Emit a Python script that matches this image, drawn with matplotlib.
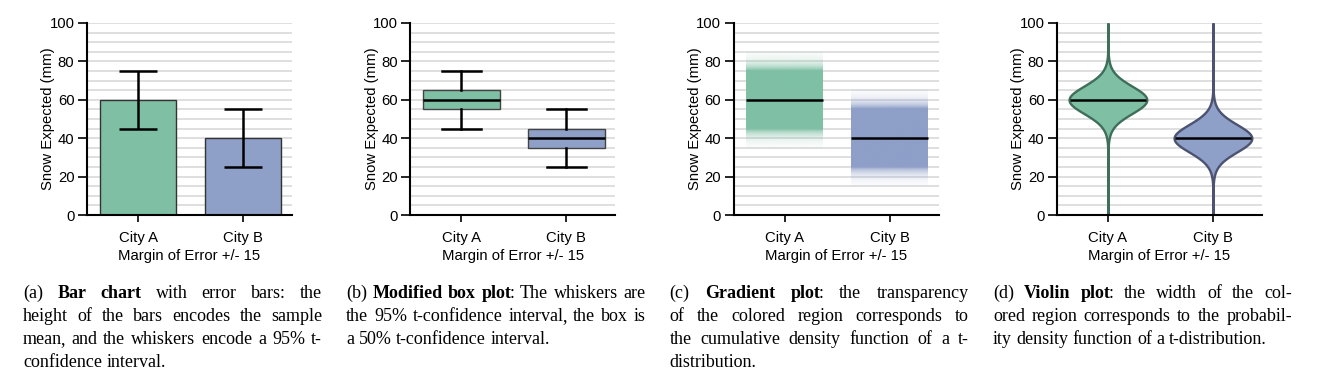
import numpy as np
import matplotlib
matplotlib.use('Agg')
import matplotlib.pyplot as plt
from matplotlib.ticker import MultipleLocator

# data
cities = ['City A', 'City B']
means = [60, 40]
ci95 = [15, 15]   # half width of the 95% t-interval
ci50 = [5, 5]     # half width of the 50% t-interval
dof = 30
yticks = [0, 20, 40, 60, 80, 100]
ylabel = 'Snow Expected (mm)'
xlabel = 'Margin of Error +/- 15'

fills = ['#7fc0a5', '#8e9fc8']
edges = ['#3f6e5b', '#4b5371']

captions = [
    ["(a) **Bar chart** with error bars: the",
     "height of the bars encodes the sample",
     "mean, and the whiskers encode a 95% t-",
     "confidence interval."],
    ["(b) **Modified box plot**: The whiskers are",
     "the 95% t-confidence interval, the box is",
     "a 50% t-confidence interval."],
    ["(c) **Gradient plot**: the transparency",
     "of the colored region corresponds to",
     "the cumulative density function of a t-",
     "distribution."],
    ["(d) **Violin plot**: the width of the col-",
     "ored region corresponds to the probabil-",
     "ity density function of a t-distribution."],
]

plt.rcParams['font.family'] = ['Liberation Sans', 'DejaVu Sans']
plt.rcParams['font.size'] = 10.7

W, H = 1332, 390
fig = plt.figure(figsize=(W / 100, H / 100), dpi=100)

x = np.arange(len(cities))
t_crit = 2.042  # t(0.975, 30)


def t_shape(y, m, half):
    se = half / t_crit
    z = (y - m) / se
    return (1 + z ** 2 / dof) ** (-(dof + 1) / 2)


def style_axes(ax):
    ax.set_xlim(-0.486, 1.466)
    ax.set_ylim(0, 100)
    ax.set_yticks(yticks)
    ax.yaxis.set_minor_locator(MultipleLocator(5))
    ax.grid(which='both', axis='y', color='#d9d9d9', lw=1.2, zorder=0)
    ax.set_axisbelow(True)
    ax.set_xticks(x)
    ax.set_xticklabels(cities)
    for s in ['top', 'right']:
        ax.spines[s].set_visible(False)
    for s in ['left', 'bottom']:
        ax.spines[s].set_linewidth(1.5)
    ax.tick_params(axis='y', which='major', length=6.5, width=1.2, pad=2.5)
    ax.tick_params(axis='y', which='minor', length=0)
    ax.tick_params(axis='x', length=5, width=1.2, pad=6.5)
    ax.set_ylabel(ylabel)
    ax.yaxis.set_label_coords(-0.155, 0.5)
    ax.set_xlabel(xlabel, labelpad=3)


axes = []
for k in range(4):
    left = 87 + 323.3 * k
    ax = fig.add_axes([left / W, 1 - 215 / H, 205 / W, 192 / H])
    axes.append(ax)

# (a) bar chart
ax = axes[0]
ax.bar(x, means, width=0.73, color=fills, edgecolor='#333333', linewidth=1, zorder=2)
ax.errorbar(x, means, yerr=ci95, fmt='none', ecolor='black', elinewidth=1.8,
            capsize=13.5, capthick=1.8, zorder=3)
style_axes(ax)

# (b) modified box plot
ax = axes[1]
stats = []
for i in range(len(cities)):
    stats.append(dict(med=means[i], q1=means[i] - ci50[i], q3=means[i] + ci50[i],
                      whislo=means[i] - ci95[i], whishi=means[i] + ci95[i], fliers=[]))
bp = ax.bxp(stats, positions=x, widths=0.73, capwidths=0.37, patch_artist=True,
            showfliers=False,
            boxprops=dict(edgecolor='#444444', linewidth=1),
            medianprops=dict(color='black', linewidth=1.8),
            whiskerprops=dict(color='black', linewidth=1.8),
            capprops=dict(color='black', linewidth=1.8))
for patch, c in zip(bp['boxes'], fills):
    patch.set_facecolor(c)
    patch.set_zorder(2)
style_axes(ax)

# (c) gradient plot
ax = axes[2]
for i in range(len(cities)):
    m = means[i]
    ys = np.linspace(m - 25, m + 25, 400)
    fine = np.linspace(m - 60, m + 60, 4001)
    pdf = t_shape(fine, m, ci95[i])
    cdf = np.cumsum(pdf)
    cdf = cdf / cdf[-1]
    cdf_y = np.interp(ys, fine, cdf)
    tail = 2 * np.minimum(cdf_y, 1 - cdf_y)
    alpha = np.clip(tail / 0.05, 0, 1)
    rgb = matplotlib.colors.to_rgb(fills[i])
    img = np.zeros((len(ys), 1, 4))
    img[:, 0, :3] = rgb
    img[:, 0, 3] = alpha
    ax.imshow(img, extent=[x[i] - 0.365, x[i] + 0.365, m - 25, m + 25],
              origin='lower', aspect='auto', interpolation='bilinear', zorder=2)
    ax.hlines(m, x[i] - 0.365, x[i] + 0.365, color='black', lw=1.8, zorder=3)
style_axes(ax)

# (d) violin plot
ax = axes[3]
coords = np.linspace(0, 100, 801)
vpstats = []
for i in range(len(cities)):
    vals = t_shape(coords, means[i], ci95[i])
    vpstats.append(dict(coords=coords, vals=vals, mean=means[i], median=means[i],
                        min=0, max=100))
vp = ax.violin(vpstats, positions=x, widths=0.74, showmeans=False,
               showextrema=False, showmedians=False)
for body, fc, ec in zip(vp['bodies'], fills, edges):
    body.set_facecolor(fc)
    body.set_edgecolor(ec)
    body.set_linewidth(1.7)
    body.set_alpha(1)
    body.set_zorder(2)
ax.hlines(means, x - 0.36, x + 0.36, color='black', lw=1.8, zorder=3)
style_axes(ax)

# captions, justified like the paper
fig.canvas.draw()
renderer = fig.canvas.get_renderer()
cap_size = 13
space = 0.25 * cap_size * 100 / 72


def parse(line):
    # split into words; a word is a list of (text, bold) pieces,
    # trailing commas get their own piece
    words = []
    bold = False
    for w in line.split():
        pieces = []
        parts = w.split('**')
        for j, p in enumerate(parts):
            if j > 0:
                bold = not bold
            if p.endswith(',') and len(p) > 1:
                pieces.append((p[:-1], bold))
                pieces.append((',', bold))
            elif p:
                pieces.append((p, bold))
        words.append(pieces)
    return words


def measure(txt, bold):
    t = fig.text(0, 0, txt, fontsize=cap_size, family='Liberation Serif',
                 weight='bold' if bold else 'normal')
    w = t.get_window_extent(renderer).width
    t.remove()
    return w


col_w = 299
for k, lines in enumerate(captions):
    x0 = 23 + 323.3 * k
    for n, line in enumerate(lines):
        base = 297.7 + 23 * n
        words = parse(line)
        widths = []
        for w in words:
            ws = [measure(p, b) for p, b in w]
            # trim the small gap left between joined pieces
            ws = [v - 1.5 if j < len(ws) - 1 else v for j, v in enumerate(ws)]
            widths.append(ws)
        totals = [sum(w) for w in widths]
        last = n == len(lines) - 1
        if last or len(words) < 2:
            gap = space
        else:
            gap = (col_w - sum(totals)) / (len(words) - 1)
        cx = x0
        for w, ws, tot in zip(words, widths, totals):
            px = cx
            for (p, b), pw in zip(w, ws):
                fig.text(px / W, 1 - base / H, p, fontsize=cap_size,
                         family='Liberation Serif',
                         weight='bold' if b else 'normal', va='baseline')
                px += pw
            cx += tot + gap

fig.savefig('out.png', dpi=100)
